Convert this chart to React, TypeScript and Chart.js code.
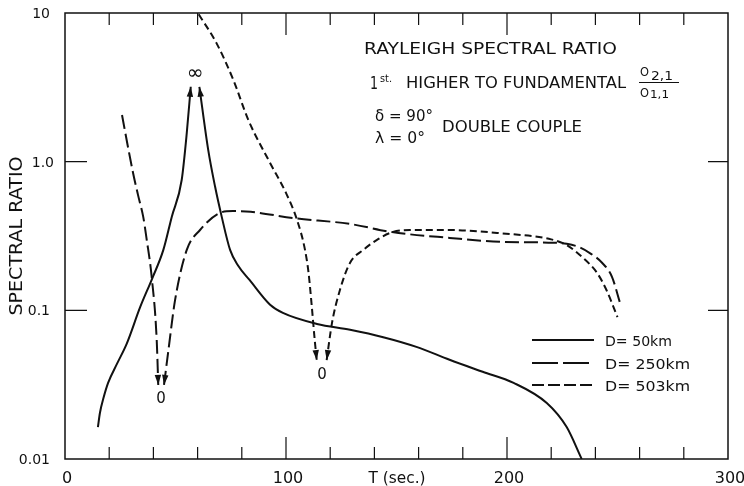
import { useEffect, useRef } from "react";
import { Chart, registerables } from "chart.js";

Chart.register(...registerables);

// ---- data (T in seconds, spectral ratio) ----
const d50T1 = [14.9, 15.8, 17.5, 19.5, 23.5, 28, 34, 39.4, 44.5, 48.3, 52.8, 55.1, 56.9];
const d50R1 = [0.0164, 0.0204, 0.026, 0.0325, 0.0436, 0.06, 0.105, 0.163, 0.255, 0.425, 0.753, 1.56, 3.19];
const d50T2 = [60.8, 64.8, 67.9, 70.9, 74.7, 78.3, 83.5, 92.8, 98.6, 114, 129, 144, 159, 174, 189, 203, 218, 227, 233.8];
const d50R2 = [3.19, 1.2, 0.68, 0.427, 0.255, 0.2, 0.16, 0.109, 0.096, 0.081, 0.074, 0.066, 0.0568, 0.0465, 0.0386, 0.0325, 0.0238, 0.0164, 0.01];

const d250T1 = [25.8, 28.3, 30.8, 33, 35.4, 37, 39.2, 41.5, 42.2];
const d250R1 = [2.06, 1.3, 0.84, 0.6, 0.425, 0.297, 0.169, 0.063, 0.0315];
const d250T2 = [44.8, 46.8, 49.8, 55.1, 61.1, 70.1, 76, 84, 103, 129, 148, 174, 197, 221, 227, 233, 238, 243, 247.5, 251];
const d250R2 = [0.0315, 0.054, 0.117, 0.255, 0.347, 0.452, 0.465, 0.46, 0.418, 0.381, 0.336, 0.307, 0.289, 0.285, 0.28, 0.265, 0.24, 0.209, 0.168, 0.114];

const d503T1 = [60.5, 68.6, 76.2, 83, 92.8, 100, 105, 108.6, 110.2, 111.7, 113, 113.9];
const d503R1 = [9.8, 6.25, 3.54, 1.9, 0.98, 0.616, 0.405, 0.255, 0.179, 0.105, 0.063, 0.0463];
const d503T2 = [118.4, 120.8, 124.4, 129, 135, 141, 148, 156, 174, 197, 220, 227, 234, 240.7, 245, 250];
const d503R2 = [0.0463, 0.082, 0.137, 0.209, 0.255, 0.297, 0.335, 0.347, 0.347, 0.33, 0.3, 0.275, 0.228, 0.179, 0.137, 0.09];

const seriesNames = ["D= 50km", "D= 250km", "D= 503km"];

const xTickValues = [20, 40, 60, 80, 100, 120, 140, 160, 180, 200, 220, 240, 260, 280];
const xLabelValues = [0, 100, 200, 300];
const xLabelTexts = ["0", "100", "200", "300"];
const yLabelValues = [10, 1, 0.1, 0.01];
const yLabelTexts = ["10", "1.0", "0.1", "0.01"];
const yInnerTicks = [1, 0.1];

const INK = "#111111";
const FONT = '"DejaVu Sans", sans-serif';
const LONG_DASH = [14, 5];
const SHORT_DASH = [7, 4];

const pts = (t: number[], r: number[]) => t.map((v, i) => ({ x: v, y: r[i] }));

function fitText(ctx: CanvasRenderingContext2D, text: string, x: number, baseY: number, w: number, size: number) {
  ctx.font = `${size}px ${FONT}`;
  const m = ctx.measureText(text).width;
  const s = w / m;
  ctx.save();
  ctx.translate(x, baseY);
  ctx.scale(s, 1);
  ctx.textAlign = "left";
  ctx.textBaseline = "alphabetic";
  ctx.fillText(text, 0, 0);
  ctx.restore();
}

function centerText(ctx: CanvasRenderingContext2D, text: string, cx: number, baseY: number, size: number) {
  ctx.font = `${size}px ${FONT}`;
  ctx.textAlign = "center";
  ctx.textBaseline = "alphabetic";
  ctx.fillText(text, cx, baseY);
}

function arrowHead(ctx: CanvasRenderingContext2D, tx: number, ty: number, fx: number, fy: number) {
  const dx = tx - fx, dy = ty - fy;
  const len = Math.hypot(dx, dy) || 1;
  const ux = dx / len, uy = dy / len;
  const L = 10, W = 3.2;
  const bx = tx - ux * L, by = ty - uy * L;
  ctx.beginPath();
  ctx.moveTo(tx, ty);
  ctx.lineTo(bx - uy * W, by + ux * W);
  ctx.lineTo(bx + uy * W, by - ux * W);
  ctx.closePath();
  ctx.fill();
}

const overlay = {
  id: "overlay",
  afterDatasetsDraw(chart: any) {
    const { ctx, chartArea: a, scales } = chart;
    const xs = scales.x, ys = scales.y;
    ctx.save();
    ctx.strokeStyle = INK;
    ctx.fillStyle = INK;
    ctx.setLineDash([]);
    ctx.lineWidth = 1.5;
    ctx.strokeRect(a.left, a.top, a.right - a.left, a.bottom - a.top);

    // ticks
    ctx.lineWidth = 1.2;
    for (const v of xTickValues) {
      const px = xs.getPixelForValue(v);
      const len = v % 100 === 0 ? 22 : 12;
      ctx.beginPath();
      ctx.moveTo(px, a.bottom); ctx.lineTo(px, a.bottom - len);
      ctx.moveTo(px, a.top); ctx.lineTo(px, a.top + len);
      ctx.stroke();
    }
    for (const v of yInnerTicks) {
      const py = ys.getPixelForValue(v);
      ctx.beginPath();
      ctx.moveTo(a.left, py); ctx.lineTo(a.left + 22, py);
      ctx.moveTo(a.right, py); ctx.lineTo(a.right - 20, py);
      ctx.stroke();
    }

    // tick labels
    xLabelValues.forEach((v, i) => centerText(ctx, xLabelTexts[i], xs.getPixelForValue(v) + 2, a.bottom + 24, 16));
    fitText(ctx, "T (sec.)", xs.getPixelForValue(150) - 28, a.bottom + 24, 57, 15);
    ctx.font = `14px ${FONT}`;
    ctx.textAlign = "right";
    ctx.textBaseline = "alphabetic";
    yLabelValues.forEach((v, i) => ctx.fillText(yLabelTexts[i], a.left - 15 + (i === 1 ? 4 : 0), ys.getPixelForValue(v) + 5));

    // y title
    ctx.save();
    ctx.translate(22, 236);
    ctx.rotate(-Math.PI / 2);
    ctx.font = `17px ${FONT}`;
    const tw = ctx.measureText("SPECTRAL RATIO").width;
    ctx.scale(159 / tw, 1);
    ctx.textAlign = "center";
    ctx.fillText("SPECTRAL RATIO", 0, 0);
    ctx.restore();

    // annotation block
    fitText(ctx, "RAYLEIGH SPECTRAL RATIO", 364, 54, 253, 16);
    fitText(ctx, "1", 370, 89, 8, 17);
    fitText(ctx, "st.", 380, 82, 12, 10);
    fitText(ctx, "HIGHER TO FUNDAMENTAL", 406, 88, 220, 16);
    // fraction
    fitText(ctx, "O", 640, 76, 9, 12);
    fitText(ctx, "2,1", 651, 80, 22, 12);
    ctx.lineWidth = 1.2;
    ctx.beginPath(); ctx.moveTo(639, 82.5); ctx.lineTo(679, 82.5); ctx.stroke();
    fitText(ctx, "O", 640, 97, 9, 12);
    fitText(ctx, "1,1", 650, 98, 19, 11);
    fitText(ctx, "δ = 90°", 375, 121, 58, 16);
    fitText(ctx, "λ = 0°", 375, 143, 50, 16);
    fitText(ctx, "DOUBLE COUPLE", 442, 132, 140, 16);

    // infinity / zero marks
    ctx.font = `20px ${FONT}`;
    ctx.textAlign = "center";
    ctx.textBaseline = "middle";
    ctx.fillText("∞", 195, 74);
    centerText(ctx, "0", 161, 403, 15);
    centerText(ctx, "0", 322, 379, 15);

    // arrowheads at branch ends
    const arrowSpec: [number[], number[], boolean][] = [
      [d50T1, d50R1, true], [d50T2, d50R2, false],
      [d250T1, d250R1, true], [d250T2, d250R2, false],
      [d503T1, d503R1, true], [d503T2, d503R2, false],
    ];
    for (const [t, r, atEnd] of arrowSpec) {
      const i = atEnd ? t.length - 1 : 0;
      const j = atEnd ? t.length - 2 : 1;
      arrowHead(ctx, xs.getPixelForValue(t[i]), ys.getPixelForValue(r[i]), xs.getPixelForValue(t[j]), ys.getPixelForValue(r[j]));
    }

    // legend
    const rows = [340, 363, 385];
    const dashes = [[], [26, 5], [12, 4]];
    ctx.lineWidth = 2;
    rows.forEach((ry, i) => {
      ctx.setLineDash(dashes[i]);
      ctx.beginPath(); ctx.moveTo(532, ry); ctx.lineTo(594, ry); ctx.stroke();
      ctx.setLineDash([]);
      fitText(ctx, seriesNames[i], 605, ry + 6, i === 0 ? 67 : 85, 14);
    });
    ctx.restore();
  },
};

export default function App() {
  const ref = useRef<HTMLCanvasElement | null>(null);
  useEffect(() => {
    if (!ref.current) return;
    const base = { borderColor: INK, borderWidth: 2, pointRadius: 0, fill: false, cubicInterpolationMode: "monotone" as const, borderCapStyle: "butt" as const };
    const chart = new Chart(ref.current, {
      type: "line",
      data: {
        datasets: [
          { ...base, label: seriesNames[0], data: pts(d50T1, d50R1) },
          { ...base, label: seriesNames[0] + " b", data: pts(d50T2, d50R2) },
          { ...base, label: seriesNames[1], data: pts(d250T1, d250R1), borderDash: LONG_DASH },
          { ...base, label: seriesNames[1] + " b", data: pts(d250T2, d250R2), borderDash: LONG_DASH },
          { ...base, label: seriesNames[2], data: pts(d503T1, d503R1), borderDash: SHORT_DASH },
          { ...base, label: seriesNames[2] + " b", data: pts(d503T2, d503R2), borderDash: SHORT_DASH },
        ],
      },
      options: {
        responsive: false,
        animation: false,
        devicePixelRatio: 1,
        layout: { padding: { left: 65, top: 13, right: 16, bottom: 27 } },
        plugins: { legend: { display: false }, tooltip: { enabled: false } },
        scales: {
          x: { type: "linear", min: 0, max: 300, display: false },
          y: { type: "logarithmic", min: 0.01, max: 10, display: false },
        },
      },
      plugins: [overlay],
    });
    return () => chart.destroy();
  }, []);
  return (
    <div style={{ position: "fixed", left: 0, top: 0, width: 744, height: 486, background: "#fff" }}>
      <canvas ref={ref} width={744} height={486} style={{ display: "block" }} />
    </div>
  );
}
